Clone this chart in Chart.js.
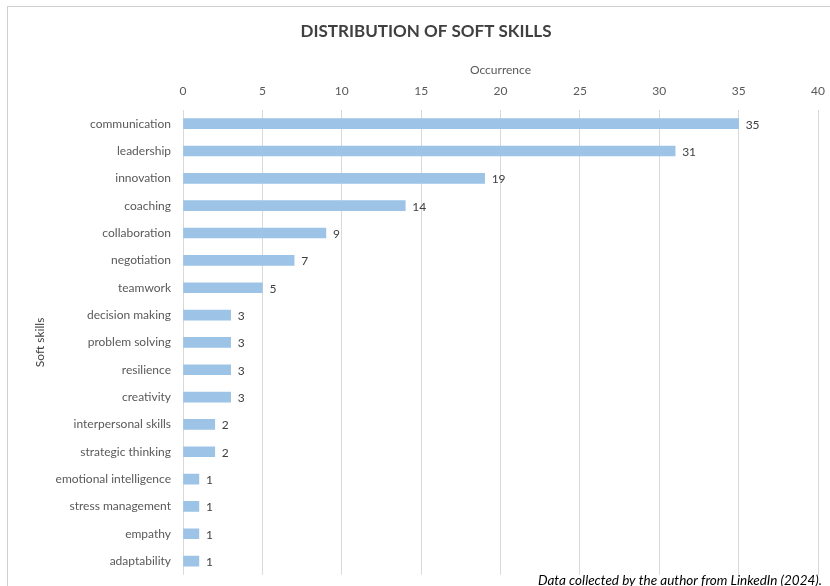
<!DOCTYPE html>
<html>
<head>
<meta charset="utf-8">
<script src="https://cdn.jsdelivr.net/npm/chart.js@4"></script>
<style>
	html, body { margin: 0; padding: 0; background: #fff; }
	#wrap { width: 830px; height: 586px; }
</style>
</head>
<body>
<div id="wrap"><canvas id="barchart" width="830" height="586"></canvas></div>
<script>
var skills = [
	"communication", "leadership", "innovation", "coaching", "collaboration",
	"negotiation", "teamwork", "decision making", "problem solving", "resilience",
	"creativity", "interpersonal skills", "strategic thinking", "emotional intelligence",
	"stress management", "empathy", "adaptability"
];
var occurrences = [35, 31, 19, 14, 9, 7, 5, 3, 3, 3, 3, 2, 2, 1, 1, 1, 1];
var xTicks = [0, 5, 10, 15, 20, 25, 30, 35, 40];

var font = "Lato, 'Open Sans', sans-serif";

// frame, title, value labels and source note
var extras = {
	id: 'extras',
	beforeDraw: function(chart) {
		var ctx = chart.ctx;
		ctx.save();
		ctx.strokeStyle = "#d0d0d0";
		ctx.lineWidth = 1;
		ctx.strokeRect(7.5, 6.5, 840, 600);
		// title sits centred on the frame, not the canvas
		ctx.font = "bold 17px " + font;
		ctx.fillStyle = "#404040";
		ctx.textAlign = "center";
		ctx.textBaseline = "middle";
		ctx.fillText("DISTRIBUTION OF SOFT SKILLS", 426, 32);
		ctx.restore();
	},
	afterDatasetsDraw: function(chart) {
		var ctx = chart.ctx;
		var meta = chart.getDatasetMeta(0);
		ctx.save();
		ctx.font = "12px " + font;
		ctx.fillStyle = "#404040";
		ctx.textBaseline = "middle";
		ctx.textAlign = "left";
		meta.data.forEach(function(bar, i) {
			ctx.fillText(occurrences[i], bar.x + 7, bar.y + 1);
		});
		ctx.font = "italic 13.5px " + font;
		ctx.fillStyle = "#000";
		ctx.textAlign = "right";
		ctx.fillText("Data collected by the author from LinkedIn (2024).", 822, 581);
		ctx.restore();
	}
};

var barchart = {
	type: 'bar',
	data: {
		labels: skills,
		datasets: [
			{
				data: occurrences,
				backgroundColor: "#9dc3e6",
				barThickness: 10
			}
		]
	},
	options: {
		indexAxis: 'y',
		responsive: false,
		animation: false,
		layout: {
			padding: { top: 56, left: 8, right: 12, bottom: 6 }
		},
		plugins: {
			legend: { display: false },
			tooltip: { enabled: false },
			title: { display: false }
		},
		scales: {
			x: {
				position: 'top',
				min: 0,
				max: 40,
				afterBuildTicks: function(scale) {
					scale.ticks = xTicks.map(function(v) { return { value: v }; });
				},
				afterFit: function(scale) {
					scale.height = 54;
					scale.paddingRight = 0;
				},
				border: { display: false },
				grid: { color: "#d9d9d9", drawTicks: false },
				ticks: {
					color: "#595959",
					font: { family: font, size: 12 },
					padding: 12
				},
				title: {
					display: true,
					text: "Occurrence",
					color: "#595959",
					font: { family: font, size: 12 },
					padding: { top: 7, bottom: 4 }
				}
			},
			y: {
				afterFit: function(scale) {
					scale.width = 175;
				},
				border: { display: false },
				grid: { display: false },
				ticks: {
					color: "#595959",
					font: { family: font, size: 12 },
					padding: 4,
					autoSkip: false
				},
				title: {
					display: true,
					text: "Soft skills",
					color: "#404040",
					font: { family: font, size: 12 },
					padding: { top: 25, bottom: 0 }
				}
			}
		}
	},
	plugins: [extras]
};

window.onload = function() {
	var ctx = document.getElementById("barchart").getContext("2d");
	window.myBar = new Chart(ctx, barchart);
};
</script>
</body>
</html>
